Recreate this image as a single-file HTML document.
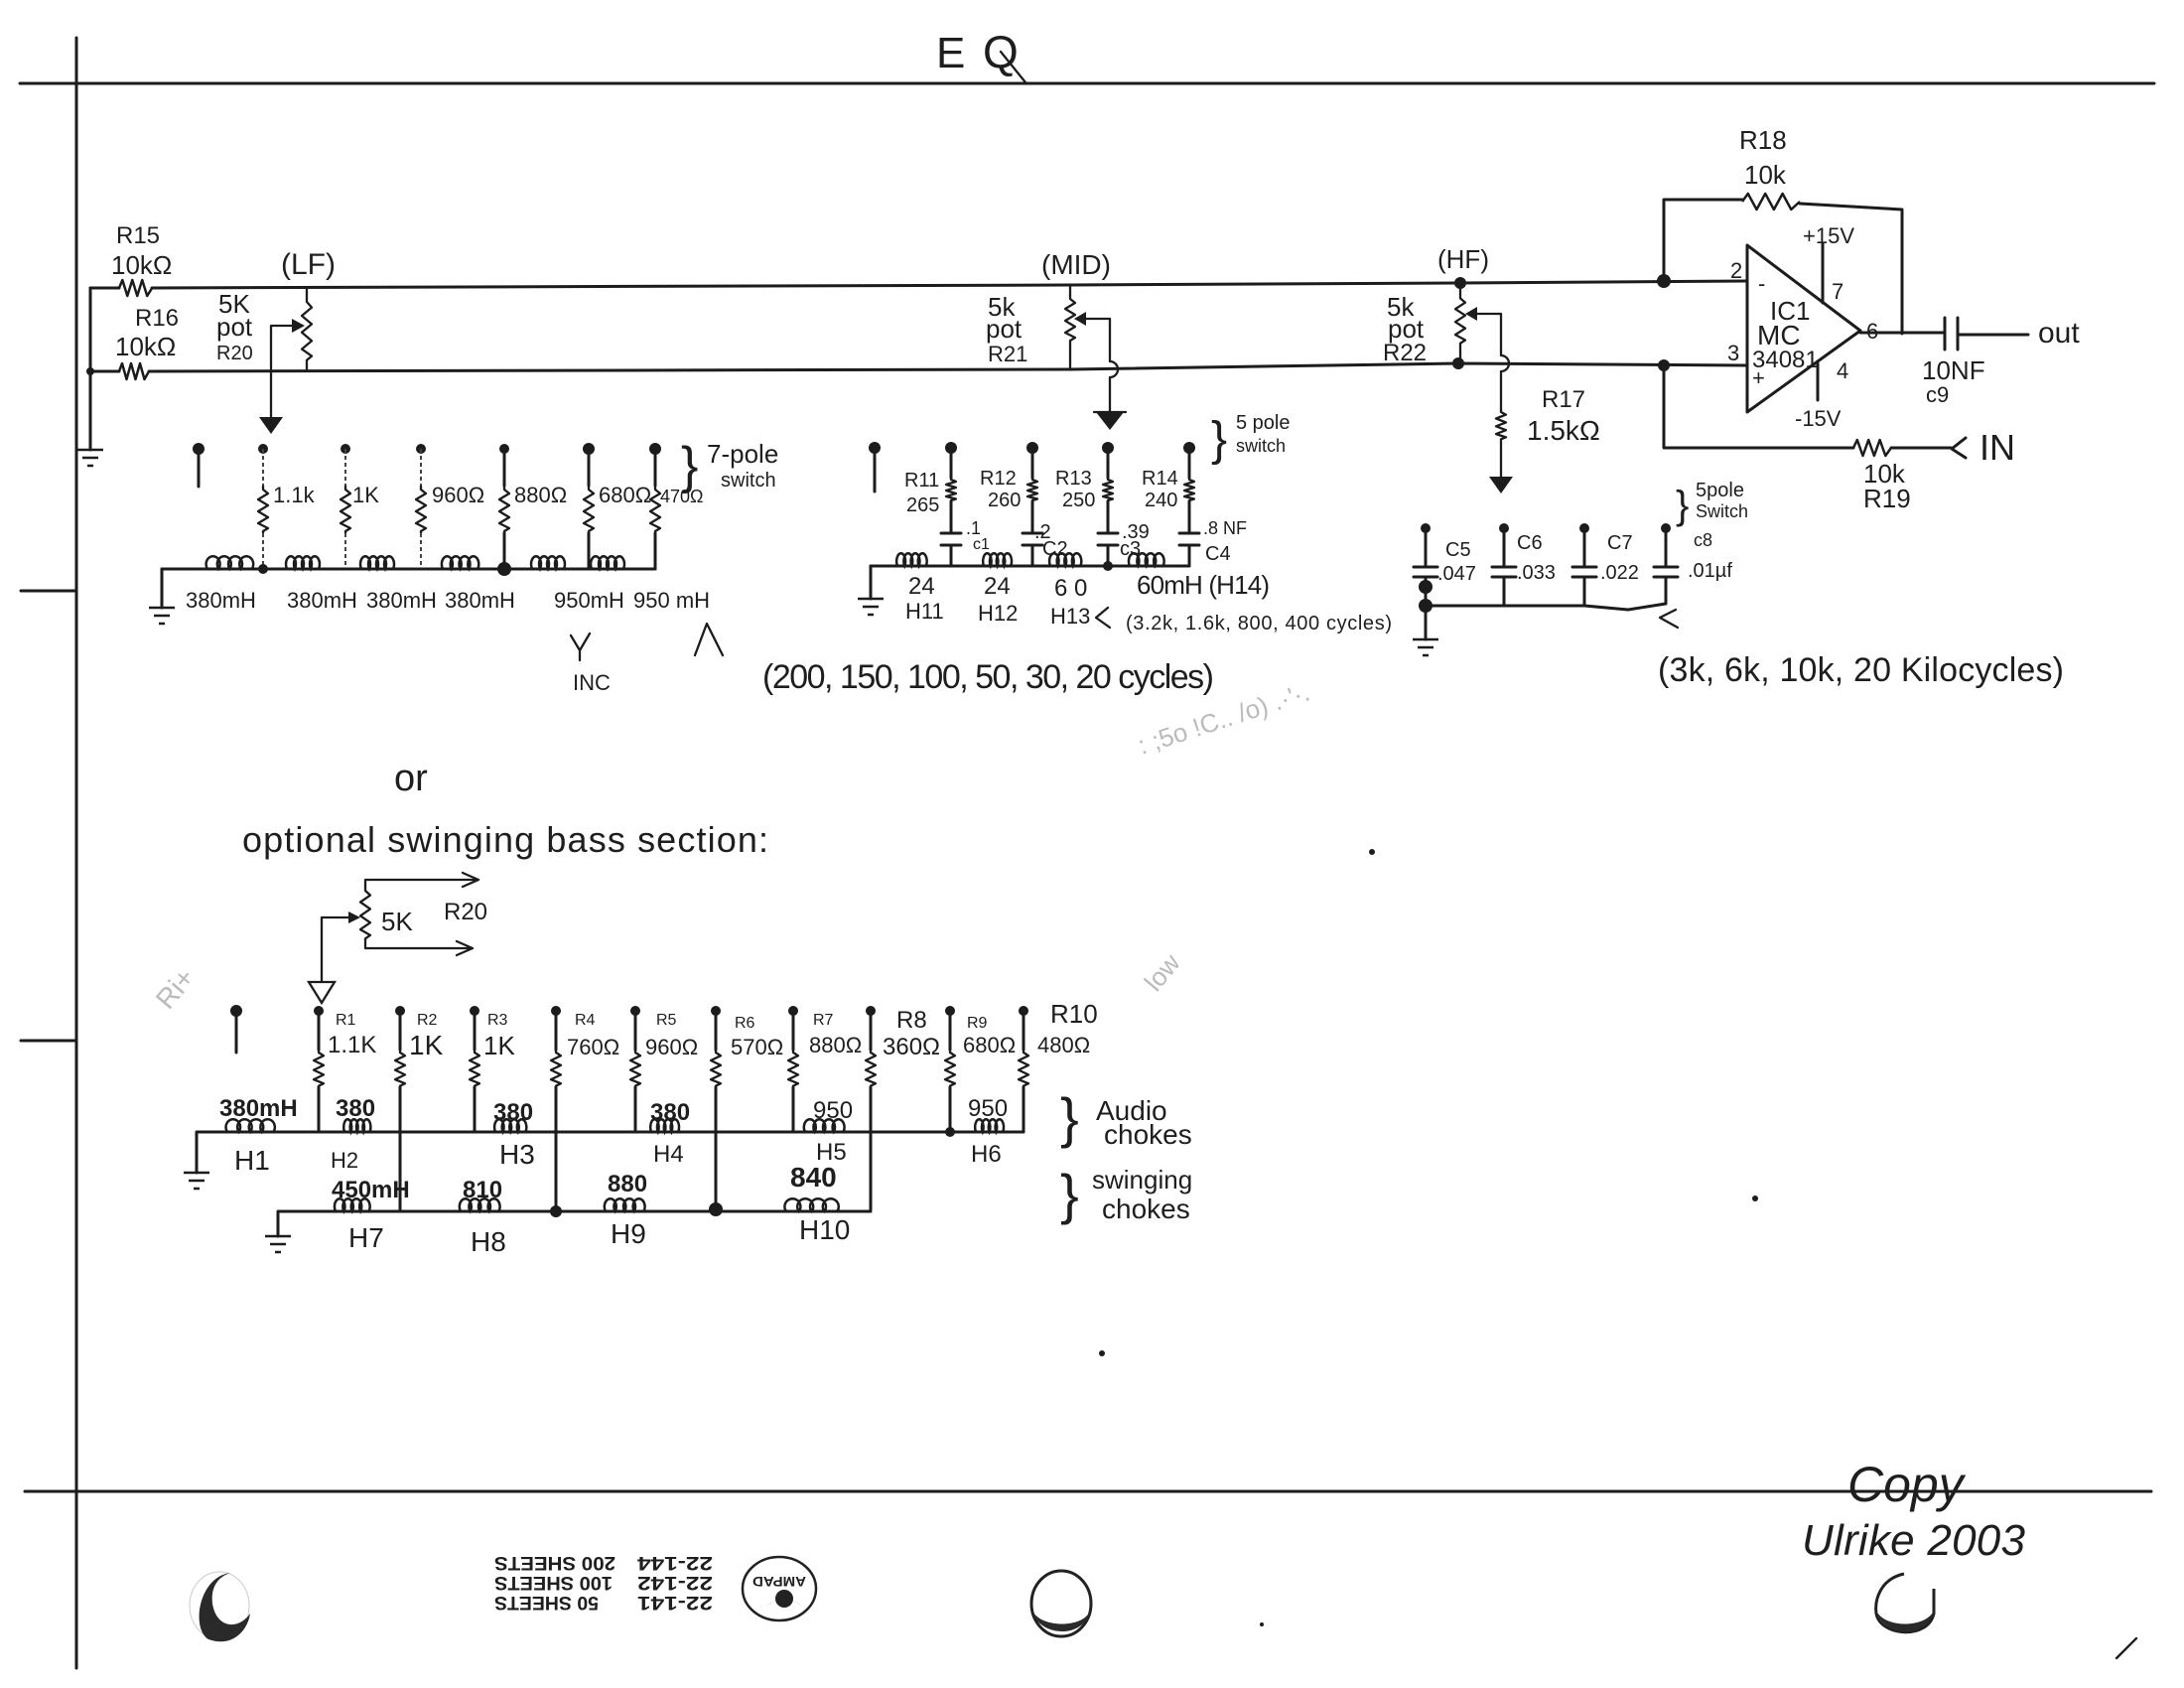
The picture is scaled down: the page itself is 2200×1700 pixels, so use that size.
<!DOCTYPE html>
<html><head><meta charset="utf-8"><style>
html,body{margin:0;padding:0;background:#fff;}
svg{display:block;}
text{font-family:"Liberation Sans",sans-serif;fill:#1e1e1e;}
.w{stroke:#1c1c1c;stroke-width:3;fill:none;stroke-linecap:round;stroke-linejoin:round;}
.t{stroke:#1c1c1c;stroke-width:2.3;fill:none;stroke-linecap:round;stroke-linejoin:round;}
.f{fill:#1c1c1c;stroke:none;}
.d{stroke:#444;stroke-width:2;fill:none;stroke-dasharray:4 3;}
.faint{fill:#bbb;}
</style></head><body>
<svg width="2200" height="1700" viewBox="0 0 2200 1700" xmlns="http://www.w3.org/2000/svg">
<defs>
<polyline id="rv" points="0,-24 0,-20 5,-16 -5,-10 5,-4 -5,2 5,8 -5,14 5,19 0,22 0,24" fill="none" stroke="#1c1c1c" stroke-width="2.3" vector-effect="non-scaling-stroke" stroke-linejoin="round"/>
<polyline id="rh" points="0,0 4,-8 10,8 16,-8 22,8 28,-8 34,8 40,0" fill="none" stroke="#1c1c1c" stroke-width="2.5" vector-effect="non-scaling-stroke" stroke-linejoin="round"/>
<path id="ind" d="M0,0 a5,8 0 1 1 8,0 a5,8 0 1 1 8,0 a5,8 0 1 1 8,0 a5,8 0 1 1 8,0" fill="none" stroke="#1c1c1c" stroke-width="2.5" vector-effect="non-scaling-stroke"/>
<g id="gnd" stroke="#1c1c1c" stroke-width="2.5" fill="none"><path d="M-13,0 H13 M-8,8 H8 M-3,16 H3"/></g>
</defs>
<rect width="2200" height="1700" fill="#fff"/>

<!-- page border lines -->
<path class="w" d="M20,84 L2170,84"/>
<path class="w" d="M77,38 V1680"/>
<path class="w" d="M21,595 H77 M21,1048 H77"/>
<path class="w" d="M25,1502 H2167"/>

<!-- title -->
<text x="943" y="68" font-size="44" fill="#333">E</text>
<text x="990" y="68" font-size="46">Q</text>
<path class="t" d="M1008,52 L1033,83"/>

<!-- main wires -->
<path class="w" d="M91,290 H120 M153,290 L1078,287 L1471,285 L1760,283"/>
<path class="w" d="M91,374 H120 M150,374 L1078,372 L1469,366 L1760,368"/>
<use href="#rh" transform="translate(120,290) scale(0.83,1)"/>
<use href="#rh" transform="translate(120,374) scale(0.75,1)"/>
<path class="w" d="M91,290 V453"/>
<circle class="f" cx="91" cy="374" r="4"/>
<use href="#gnd" x="91" y="453"/>

<text x="117" y="245" font-size="24">R15</text>
<text x="112" y="276" font-size="26">10kΩ</text>
<text x="136" y="328" font-size="24">R16</text>
<text x="116" y="358" font-size="26">10kΩ</text>

<!-- LF pot -->
<text x="283" y="276" font-size="30">(LF)</text>
<path class="t" d="M309,290 V298 M309,366 V373"/>
<use href="#rv" transform="translate(309,332) scale(1,1.4)"/>
<path class="t" d="M273,328 H296 M273,328 V420"/>
<polygon class="f" points="294,321 307,328 294,335"/>
<polygon class="f" points="261,420 285,420 273,437"/>
<text x="220" y="315" font-size="26">5K</text>
<text x="218" y="338" font-size="26">pot</text>
<text x="218" y="362" font-size="20">R20</text>

<!-- LF switch network -->
<circle class="f" cx="200" cy="452" r="6"/><path class="w" d="M200,452 V490"/>
<g>
<circle class="f" cx="265" cy="452" r="5"/><circle class="f" cx="348" cy="452" r="5"/><circle class="f" cx="424" cy="452" r="5"/>
<circle class="f" cx="508" cy="452" r="5"/><circle class="f" cx="593" cy="452" r="6"/><circle class="f" cx="660" cy="452" r="6"/>
</g>
<path class="d" d="M265,452 V489 M265,537 V573 M348,452 V489 M348,537 V573 M424,452 V489 M424,537 V573"/>
<path class="w" d="M508,452 V489 M508,537 V573 M593,452 V489 M593,537 V573 M660,452 V489 M660,537 V573"/>
<use href="#rv" transform="translate(265,513)"/><use href="#rv" transform="translate(348,513)"/><use href="#rv" transform="translate(424,513)"/>
<use href="#rv" transform="translate(508,513)"/><use href="#rv" transform="translate(593,513)"/><use href="#rv" transform="translate(660,513)"/>
<path class="w" d="M163,573 H660"/>
<use href="#ind" transform="translate(209,573) scale(1.4,1)"/>
<use href="#ind" transform="translate(289,573) scale(1,1)"/>
<use href="#ind" transform="translate(364,573) scale(1,1)"/>
<use href="#ind" transform="translate(446,573) scale(1.1,1)"/>
<use href="#ind" transform="translate(536,573) scale(1,1)"/>
<use href="#ind" transform="translate(596,573) scale(1,1)"/>
<circle class="f" cx="265" cy="573" r="5"/><circle class="f" cx="508" cy="573" r="7"/>
<path class="w" d="M163,573 V612"/><use href="#gnd" x="163" y="612"/>
<g font-size="22">
<text x="275" y="506">1.1k</text><text x="355" y="506">1K</text><text x="435" y="506">960Ω</text>
<text x="518" y="506">880Ω</text><text x="603" y="506">680Ω</text><text x="665" y="506" font-size="18">470Ω</text>
<text x="187" y="612">380mH</text><text x="289" y="612">380mH</text><text x="369" y="612">380mH</text>
<text x="448" y="612">380mH</text><text x="558" y="612">950mH</text><text x="638" y="612">950 mH</text>
</g>
<text x="686" y="486" font-size="52">}</text>
<text x="712" y="466" font-size="26">7-pole</text>
<text x="726" y="490" font-size="20">switch</text>
<text x="577" y="695" font-size="22">INC</text>
<path class="t" d="M575,640 L584,655 L594,638 M584,655 V665 M700,660 L712,628 L728,660"/>

<!-- MID -->
<text x="1049" y="276" font-size="28">(MID)</text>
<path class="t" d="M1078,287 V297 M1078,345 V372"/>
<use href="#rv" transform="translate(1078,321)"/>
<polygon class="f" points="1082,321 1094,314 1094,328"/>
<path class="t" d="M1094,321 H1118 V364 a8,8 0 0 1 0,16 V415 M1102,415 H1134"/>
<polygon class="f" points="1104,415 1132,415 1118,433"/>
<text x="995" y="318" font-size="26">5k</text>
<text x="993" y="340" font-size="26">pot</text>
<text x="995" y="364" font-size="22">R21</text>
<text x="1220" y="458" font-size="48">}</text>
<text x="1245" y="432" font-size="20">5 pole</text>
<text x="1245" y="455" font-size="18">switch</text>

<circle class="f" cx="881" cy="451" r="6"/><path class="w" d="M881,451 V495"/>
<circle class="f" cx="958" cy="451" r="6"/><circle class="f" cx="1040" cy="451" r="6"/><circle class="f" cx="1116" cy="451" r="6"/><circle class="f" cx="1198" cy="451" r="6"/>
<path class="w" d="M958,451 V481 M958,505 V537 M948,537 H968 M948,549 H968 M958,549 V570
M1040,451 V481 M1040,505 V537 M1030,537 H1050 M1030,549 H1050 M1040,549 V570
M1116,451 V481 M1116,505 V537 M1106,537 H1126 M1106,549 H1126 M1116,549 V570
M1198,451 V481 M1198,505 V537 M1188,537 H1208 M1188,549 H1208 M1198,549 V570"/>
<use href="#rv" transform="translate(958,493) scale(1,0.5)"/><use href="#rv" transform="translate(1040,493) scale(1,0.5)"/>
<use href="#rv" transform="translate(1116,493) scale(1,0.5)"/><use href="#rv" transform="translate(1198,493) scale(1,0.5)"/>
<path class="w" d="M877,570 H1198"/>
<use href="#ind" transform="translate(904,570) scale(0.9,1)"/>
<use href="#ind" transform="translate(991,570) scale(0.85,1)"/>
<use href="#ind" transform="translate(1058,570) scale(0.95,1)"/>
<use href="#ind" transform="translate(1138,570) scale(1.05,1)"/>
<circle class="f" cx="1116" cy="570" r="5"/>
<path class="w" d="M877,570 V603"/><use href="#gnd" x="877" y="603"/>
<g font-size="20">
<text x="911" y="490">R11</text><text x="913" y="515">265</text>
<text x="987" y="488">R12</text><text x="995" y="510">260</text>
<text x="1063" y="488">R13</text><text x="1070" y="510">250</text>
<text x="1150" y="488">R14</text><text x="1153" y="510">240</text>
<text x="973" y="538" font-size="18">.1</text><text x="980" y="553" font-size="16">c1</text>
<text x="1042" y="542">.2</text><text x="1050" y="559">C2</text>
<text x="1130" y="542">.39</text><text x="1128" y="559">c3</text>
<text x="1212" y="538" font-size="18">.8 NF</text><text x="1214" y="564">C4</text>
</g>
<g font-size="24">
<text x="915" y="598">24</text><text x="912" y="623" font-size="22">H11</text>
<text x="991" y="598">24</text><text x="985" y="625" font-size="22">H12</text>
<text x="1062" y="600">6 0</text><text x="1058" y="628" font-size="22">H13</text>
<text x="1145" y="598" font-size="26" textLength="134">60mH (H14)</text>
</g>
<path class="t" d="M1116,612 L1104,622 L1118,632"/>
<text x="1134" y="634" font-size="20" textLength="268">(3.2k, 1.6k, 800, 400 cycles)</text>
<text x="768" y="693" font-size="34" textLength="455">(200, 150, 100, 50, 30, 20 cycles)</text>

<!-- HF -->
<text x="1448" y="270" font-size="26">(HF)</text>
<circle class="f" cx="1471" cy="285" r="6"/><circle class="f" cx="1469" cy="366" r="6"/>
<path class="t" d="M1471,285 V296 M1471,348 V366"/>
<use href="#rv" transform="translate(1471,322) scale(1,1.08)"/>
<polygon class="f" points="1476,316 1488,309 1488,323"/>
<path class="t" d="M1488,316 H1512 V358 a8,8 0 0 1 0,16 V413 M1512,444 V480"/>
<use href="#rv" transform="translate(1512,428) scale(1,0.65)"/>
<polygon class="f" points="1500,480 1524,480 1512,497"/>
<text x="1397" y="318" font-size="26">5k</text>
<text x="1398" y="340" font-size="26">pot</text>
<text x="1393" y="363" font-size="24">R22</text>
<text x="1553" y="410" font-size="24">R17</text>
<text x="1538" y="443" font-size="28">1.5kΩ</text>

<circle class="f" cx="1436" cy="532" r="5"/><circle class="f" cx="1515" cy="532" r="5"/><circle class="f" cx="1596" cy="532" r="5"/><circle class="f" cx="1678" cy="532" r="5"/>
<path class="w" d="M1436,532 V571 M1424,571 H1448 M1424,581 H1448 M1436,581 V644
M1515,532 V571 M1503,571 H1527 M1503,581 H1527 M1515,581 V610
M1596,532 V571 M1584,571 H1608 M1584,581 H1608 M1596,581 V610
M1678,532 V571 M1666,571 H1690 M1666,581 H1690 M1678,581 V608
M1436,610 H1596 L1640,614 L1678,608"/>
<circle class="f" cx="1436" cy="591" r="7"/><circle class="f" cx="1436" cy="610" r="7"/>
<use href="#gnd" x="1436" y="644"/>
<g font-size="20">
<text x="1456" y="560">C5</text><text x="1448" y="584">.047</text>
<text x="1528" y="553">C6</text><text x="1528" y="583">.033</text>
<text x="1619" y="553">C7</text><text x="1612" y="583">.022</text>
<text x="1706" y="550" font-size="18">c8</text><text x="1700" y="581">.01µf</text>
</g>
<text x="1688" y="522" font-size="40">}</text>
<text x="1708" y="500" font-size="20">5pole</text>
<text x="1708" y="521" font-size="18">Switch</text>
<path class="t" d="M1688,614 L1672,622 L1690,632"/>
<text x="1670" y="686" font-size="34" textLength="409">(3k, 6k, 10k, 20 Kilocycles)</text>

<!-- Op amp -->
<polygon points="1760,247 1760,415 1874,333" fill="none" stroke="#1c1c1c" stroke-width="3" stroke-linejoin="round"/>
<circle class="f" cx="1676" cy="283" r="7"/>
<path class="w" d="M1676,283 V201 H1755 M1813,205 L1916,211 V336"/>
<use href="#rh" transform="translate(1755,203) scale(1.45,1)"/>
<path class="w" d="M1874,335 H1959 M1959,320 V352 M1972,320 V352 M1972,337 H2043"/>
<path class="w" d="M1836,245 V305 M1831,366 V403"/>
<circle class="f" cx="1676" cy="368" r="6"/>
<path class="w" d="M1676,368 V451 H1867 M1905,451 H1965 M1980,441 L1966,452 L1980,461"/>
<use href="#rh" transform="translate(1867,451) scale(0.95,1)"/>
<text x="1752" y="150" font-size="26">R18</text>
<text x="1757" y="185" font-size="26">10k</text>
<text x="1816" y="245" font-size="22">+15V</text>
<text x="1845" y="301" font-size="22">7</text>
<text x="1850" y="381" font-size="22">4</text>
<text x="1808" y="429" font-size="22">-15V</text>
<text x="1783" y="322" font-size="26">IC1</text>
<text x="1770" y="347" font-size="28">MC</text>
<text x="1765" y="370" font-size="24">34081</text>
<text x="1771" y="293" font-size="22">-</text>
<text x="1765" y="388" font-size="22">+</text>
<text x="1743" y="280" font-size="22">2</text>
<text x="1740" y="363" font-size="22">3</text>
<text x="1880" y="341" font-size="22">6</text>
<text x="2053" y="345" font-size="30">out</text>
<text x="1994" y="463" font-size="36">IN</text>
<text x="1936" y="382" font-size="26">10NF</text>
<text x="1940" y="405" font-size="22">c9</text>
<text x="1877" y="486" font-size="26">10k</text>
<text x="1877" y="511" font-size="26">R19</text>

<!-- faint scribbles -->
<text x="1150" y="760" font-size="26" class="faint" transform="rotate(-18 1150 760)">: ;5o !C.. /o) .·'·.</text>
<text x="1165" y="1000" font-size="26" class="faint" transform="rotate(-50 1165 1000)">low</text>
<text x="170" y="1018" font-size="28" class="faint" transform="rotate(-50 170 1018)">Ri+</text>
<circle class="f" cx="1382" cy="858" r="3"/><circle class="f" cx="1768" cy="1207" r="3"/>
<circle class="f" cx="1271" cy="1636" r="2"/><circle class="f" cx="1110" cy="1363" r="3"/>

<!-- Optional swinging bass section -->
<text x="397" y="796" font-size="38">or</text>
<text x="244" y="858" font-size="36" textLength="530">optional swinging bass section:</text>
<path class="t" d="M368,886 V893 M368,948 V955 M368,886 H480 M466,879 L482,886 L466,893 M368,955 H474 M460,948 L476,955 L460,962"/>
<use href="#rv" transform="translate(368,920) scale(1,1.15)"/>
<path class="t" d="M324,924 H352 M324,924 V989"/>
<polygon class="f" points="351,918 363,924 351,930"/>
<polygon points="311,989 337,989 324,1010" fill="none" stroke="#1c1c1c" stroke-width="2.3"/>
<text x="384" y="937" font-size="26">5K</text>
<text x="447" y="926" font-size="24">R20</text>

<circle class="f" cx="238" cy="1018" r="6"/><path class="w" d="M238,1018 V1060"/>
<g>
<circle class="f" cx="321" cy="1018" r="5"/><circle class="f" cx="403" cy="1018" r="5"/><circle class="f" cx="478" cy="1018" r="5"/>
<circle class="f" cx="560" cy="1018" r="5"/><circle class="f" cx="640" cy="1018" r="5"/><circle class="f" cx="721" cy="1018" r="5"/>
<circle class="f" cx="799" cy="1018" r="5"/><circle class="f" cx="877" cy="1018" r="5"/><circle class="f" cx="957" cy="1018" r="5"/>
<circle class="f" cx="1031" cy="1018" r="5"/>
</g>
<path class="w" d="M321,1018 V1057 M321,1095 V1140 M403,1018 V1057 M403,1095 V1220 M478,1018 V1057 M478,1095 V1140
M560,1018 V1057 M560,1095 V1220 M640,1018 V1057 M640,1095 V1140 M721,1018 V1057 M721,1095 V1218
M799,1018 V1057 M799,1095 V1140 M877,1018 V1057 M877,1095 V1218 M957,1018 V1057 M957,1095 V1140
M1031,1018 V1057 M1031,1095 V1140"/>
<use href="#rv" transform="translate(321,1076) scale(1,0.8)"/><use href="#rv" transform="translate(403,1076) scale(1,0.8)"/>
<use href="#rv" transform="translate(478,1076) scale(1,0.8)"/><use href="#rv" transform="translate(560,1076) scale(1,0.8)"/>
<use href="#rv" transform="translate(640,1076) scale(1,0.8)"/><use href="#rv" transform="translate(721,1076) scale(1,0.8)"/>
<use href="#rv" transform="translate(799,1076) scale(1,0.8)"/><use href="#rv" transform="translate(877,1076) scale(1,0.8)"/>
<use href="#rv" transform="translate(957,1076) scale(1,0.8)"/><use href="#rv" transform="translate(1031,1076) scale(1,0.8)"/>
<path class="w" d="M198,1140 H1031 M198,1140 V1181 M280,1220 H877 M280,1220 V1245"/>
<use href="#gnd" x="198" y="1181"/><use href="#gnd" x="280" y="1245"/>
<use href="#ind" transform="translate(229,1140) scale(1.45,1)"/>
<use href="#ind" transform="translate(347,1140) scale(0.8,1)"/>
<use href="#ind" transform="translate(499,1140) scale(0.95,1)"/>
<use href="#ind" transform="translate(656,1140) scale(0.85,1)"/>
<use href="#ind" transform="translate(811,1140) scale(1.2,1)"/>
<use href="#ind" transform="translate(983,1140) scale(0.85,1)"/>
<use href="#ind" transform="translate(338,1220) scale(1.05,1)"/>
<use href="#ind" transform="translate(464,1220) scale(1.2,1)"/>
<use href="#ind" transform="translate(610,1220) scale(1.2,1)"/>
<use href="#ind" transform="translate(792,1220) scale(1.6,1)"/>
<circle class="f" cx="957" cy="1140" r="5"/><circle class="f" cx="560" cy="1220" r="6"/><circle class="f" cx="721" cy="1218" r="7"/>
<g font-size="16">
<text x="338" y="1032">R1</text><text x="420" y="1032">R2</text><text x="491" y="1032">R3</text>
<text x="579" y="1032">R4</text><text x="661" y="1032">R5</text><text x="740" y="1035">R6</text>
<text x="819" y="1032">R7</text><text x="903" y="1035" font-size="24">R8</text><text x="974" y="1035">R9</text>
<text x="1058" y="1030" font-size="26">R10</text>
</g>
<g font-size="22">
<text x="330" y="1060" font-size="24">1.1K</text><text x="412" y="1062" font-size="28">1K</text><text x="487" y="1062" font-size="26">1K</text>
<text x="571" y="1062">760Ω</text><text x="650" y="1062">960Ω</text><text x="736" y="1062">570Ω</text>
<text x="815" y="1060">880Ω</text><text x="889" y="1062" font-size="24">360Ω</text><text x="970" y="1060">680Ω</text>
<text x="1045" y="1060">480Ω</text>
</g>
<g font-size="24" font-weight="bold">
<text x="221" y="1124">380mH</text><text x="338" y="1124">380</text><text x="497" y="1128">380</text>
<text x="655" y="1128">380</text><text x="819" y="1126" font-weight="normal">950</text><text x="975" y="1124" font-weight="normal">950</text>
<text x="334" y="1206">450mH</text><text x="466" y="1206">810</text><text x="612" y="1200">880</text>
<text x="796" y="1195" font-size="28">840</text>
</g>
<g font-size="28">
<text x="236" y="1178">H1</text><text x="333" y="1176" font-size="22">H2</text><text x="503" y="1172">H3</text>
<text x="658" y="1170" font-size="24">H4</text><text x="822" y="1168" font-size="24">H5</text><text x="978" y="1170" font-size="24">H6</text>
<text x="351" y="1256">H7</text><text x="474" y="1260">H8</text><text x="615" y="1252">H9</text><text x="805" y="1248">H10</text>
</g>
<text x="1068" y="1145" font-size="56">}</text>
<text x="1104" y="1128" font-size="28">Audio</text>
<text x="1112" y="1152" font-size="28">chokes</text>
<text x="1068" y="1222" font-size="56">}</text>
<text x="1100" y="1197" font-size="26">swinging</text>
<text x="1110" y="1227" font-size="28">chokes</text>

<!-- footer: binder holes -->
<ellipse cx="221" cy="1617" rx="30" ry="34" fill="none" stroke="#ccc" stroke-width="1"/>
<path d="M232,1584 C200,1588 192,1640 210,1651 C236,1660 250,1640 252,1625 C240,1642 218,1640 214,1615 C212,1598 220,1588 232,1584 Z" fill="#2a2a2a"/>
<ellipse cx="1069" cy="1615" rx="30" ry="33" fill="none" stroke="#222" stroke-width="3"/>
<path d="M1040,1622 C1045,1648 1092,1652 1098,1622 C1092,1640 1048,1640 1040,1622 Z" fill="#2a2a2a"/>
<path d="M1918,1585 C1895,1590 1888,1610 1890,1625 C1894,1648 1942,1652 1948,1625 L1948,1600" fill="none" stroke="#222" stroke-width="3"/>
<path d="M1890,1622 C1895,1648 1942,1652 1948,1622 C1940,1640 1898,1640 1890,1622 Z" fill="#2a2a2a"/>

<!-- AMPAD pad text (upside-down) -->
<g transform="rotate(180 608 1595)" font-weight="bold" font-size="19">
<text x="498" y="1582" font-weight="bold" textLength="76" lengthAdjust="spacingAndGlyphs">22-141</text><text x="613" y="1582" font-weight="bold" textLength="105" lengthAdjust="spacingAndGlyphs">50 SHEETS</text>
<text x="498" y="1602" font-weight="bold" textLength="76" lengthAdjust="spacingAndGlyphs">22-142</text><text x="599" y="1602" font-weight="bold" textLength="119" lengthAdjust="spacingAndGlyphs">100 SHEETS</text>
<text x="498" y="1622" font-weight="bold" textLength="76" lengthAdjust="spacingAndGlyphs">22-144</text><text x="596" y="1622" font-weight="bold" textLength="122" lengthAdjust="spacingAndGlyphs">200 SHEETS</text>
</g>
<ellipse cx="785" cy="1600" rx="37" ry="32" fill="none" stroke="#222" stroke-width="2.5"/>
<g transform="rotate(180 785 1600)">
<text x="758" y="1612" font-size="14" font-weight="bold" textLength="54" lengthAdjust="spacingAndGlyphs">AMPAD</text>
<circle cx="780" cy="1590" r="9" fill="#222"/>
<path d="M762,1582 a22,16 0 0 0 36,0 a20,12 0 0 1 -36,0 z" fill="#222"/>
</g>

<!-- signature -->
<text x="1861" y="1512" font-size="50" font-style="italic" fill="#222">Copy</text>
<text x="1815" y="1566" font-size="44" font-style="italic" fill="#222" textLength="225">Ulrike 2003</text>
<path class="t" d="M2132,1670 L2152,1650"/>
</svg>
</body></html>
